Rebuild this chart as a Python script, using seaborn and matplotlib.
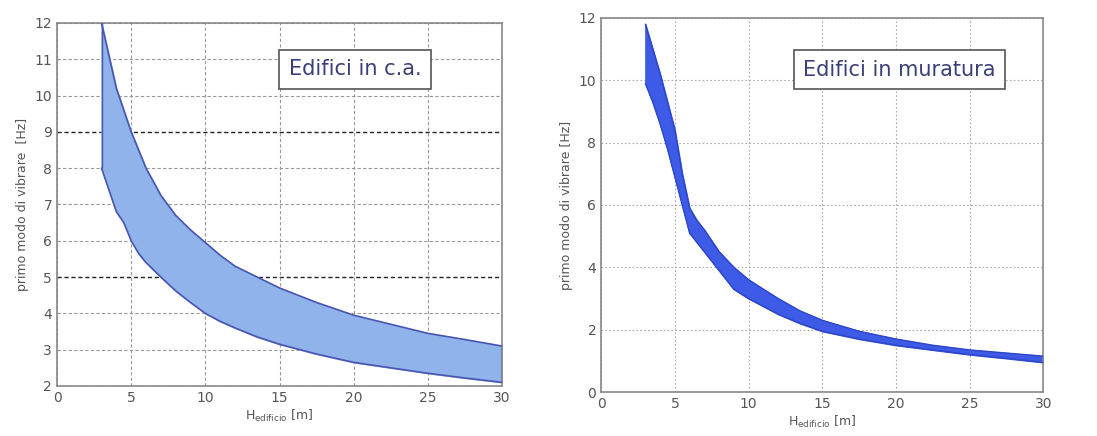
import matplotlib
matplotlib.use("Agg")
import matplotlib.pyplot as plt
import seaborn as sns
import pandas as pd

# --- data ---
# reinforced concrete buildings (left)
ca_h = [3, 3.5, 4, 4.5, 5, 5.5, 6, 7, 8, 9, 10, 11, 12, 13.5, 15, 17.5, 20, 22.5, 25, 27.5, 30]
ca_upper = [12, 11.1, 10.2, 9.6, 9.0, 8.5, 8.0, 7.25, 6.7, 6.3, 5.95, 5.6, 5.3, 5.0, 4.7,
            4.3, 3.95, 3.7, 3.45, 3.28, 3.1]
ca_lower = [8, 7.4, 6.8, 6.5, 6.0, 5.65, 5.4, 5.0, 4.62, 4.3, 4.0, 3.78, 3.6, 3.35, 3.15,
            2.88, 2.65, 2.5, 2.35, 2.22, 2.1]

# masonry buildings (right)
mu_h = [3, 3.5, 4, 4.5, 5, 5.5, 6, 6.5, 7, 8, 9, 10, 11, 12, 13.5, 15, 17.5, 20, 22.5, 25, 27.5, 30]
mu_upper = [11.8, 11.0, 10.2, 9.3, 8.4, 7.0, 5.9, 5.5, 5.2, 4.5, 4.0, 3.6, 3.3, 3.0, 2.6, 2.3,
            1.95, 1.7, 1.5, 1.35, 1.25, 1.15]
mu_lower = [9.9, 9.3, 8.6, 7.8, 6.9, 6.0, 5.1, 4.8, 4.5, 3.9, 3.3, 3.0, 2.75, 2.5, 2.2, 1.95,
            1.7, 1.5, 1.35, 1.2, 1.08, 0.95]

x_ticks = [0, 5, 10, 15, 20, 25, 30]
ca_yticks = list(range(2, 13))
mu_yticks = [0, 2, 4, 6, 8, 10, 12]

ca_df = pd.DataFrame({"H": ca_h, "upper": ca_upper, "lower": ca_lower})
mu_df = pd.DataFrame({"H": mu_h, "upper": mu_upper, "lower": mu_lower})

sns.set_style("white")
plt.rcParams["font.family"] = ["DejaVu Sans"]

fig = plt.figure(figsize=(10.97, 4.36), dpi=100)
ax1 = fig.add_axes([0.052, 0.1147, 0.4056, 0.8326])
ax2 = fig.add_axes([0.548, 0.1009, 0.403, 0.858])

tick_col = "#555555"

# left panel
ax1.fill_between(ca_df["H"], ca_df["lower"], ca_df["upper"], color="#8fb3ea", zorder=2)
sns.lineplot(data=ca_df, x="H", y="upper", ax=ax1, color="#4a55b0", lw=1.2, zorder=3)
sns.lineplot(data=ca_df, x="H", y="lower", ax=ax1, color="#4a55b0", lw=1.2, zorder=3)
ax1.plot([3, 3], [ca_lower[0], ca_upper[0]], color="#4a55b0", lw=1.0, zorder=3)
ax1.plot([30, 30], [ca_lower[-1], ca_upper[-1]], color="#4a55b0", lw=1.0, zorder=3)
ax1.set_xlim(0, 30)
ax1.set_ylim(2, 12)
ax1.set_yticks(ca_yticks)
for y in ca_yticks:
    dark = y in (5, 9)
    ax1.axhline(y, color="#222222" if dark else "#999999", ls=(0, (3, 2)),
                lw=1.0 if dark else 0.8, zorder=1)
for x in x_ticks:
    ax1.axvline(x, color="#999999", ls=(0, (3, 2)), lw=0.8, zorder=1)
ax1.set_ylabel("primo modo di vibrare  [Hz]", color=tick_col, fontsize=9)
ax1.text(0.67, 0.872, "Edifici in c.a.", transform=ax1.transAxes, fontsize=15,
         color="#3a3f78", ha="center", va="center",
         bbox=dict(boxstyle="square,pad=0.45", fc="white", ec="#555555", lw=1.2), zorder=5)

# right panel
ax2.fill_between(mu_df["H"], mu_df["lower"], mu_df["upper"], color="#3d5be6", zorder=2)
sns.lineplot(data=mu_df, x="H", y="upper", ax=ax2, color="#2e46c8", lw=1.0, zorder=3)
sns.lineplot(data=mu_df, x="H", y="lower", ax=ax2, color="#2e46c8", lw=1.0, zorder=3)
ax2.set_xlim(0, 30)
ax2.set_ylim(0, 12)
ax2.set_yticks(mu_yticks)
for y in mu_yticks:
    ax2.axhline(y, color="#aaaaaa", ls=(0, (1.5, 2)), lw=0.8, zorder=1)
for x in x_ticks:
    ax2.axvline(x, color="#aaaaaa", ls=(0, (1.5, 2)), lw=0.8, zorder=1)
ax2.set_ylabel("primo modo di vibrare [Hz]", color=tick_col, fontsize=9)
ax2.text(0.675, 0.862, "Edifici in muratura", transform=ax2.transAxes, fontsize=15,
         color="#3a3f78", ha="center", va="center",
         bbox=dict(boxstyle="square,pad=0.45", fc="white", ec="#555555", lw=1.2), zorder=5)

for ax in (ax1, ax2):
    ax.set_xticks(x_ticks)
    ax.set_xlabel(r"H$_{\mathrm{edificio}}$ [m]", color=tick_col, fontsize=9, labelpad=2)
    ax.tick_params(colors=tick_col, labelsize=10, direction="in", length=3)
    for s in ax.spines.values():
        s.set_color("#888888")
        s.set_linewidth(1.2)

fig.savefig("out.png", dpi=100)
